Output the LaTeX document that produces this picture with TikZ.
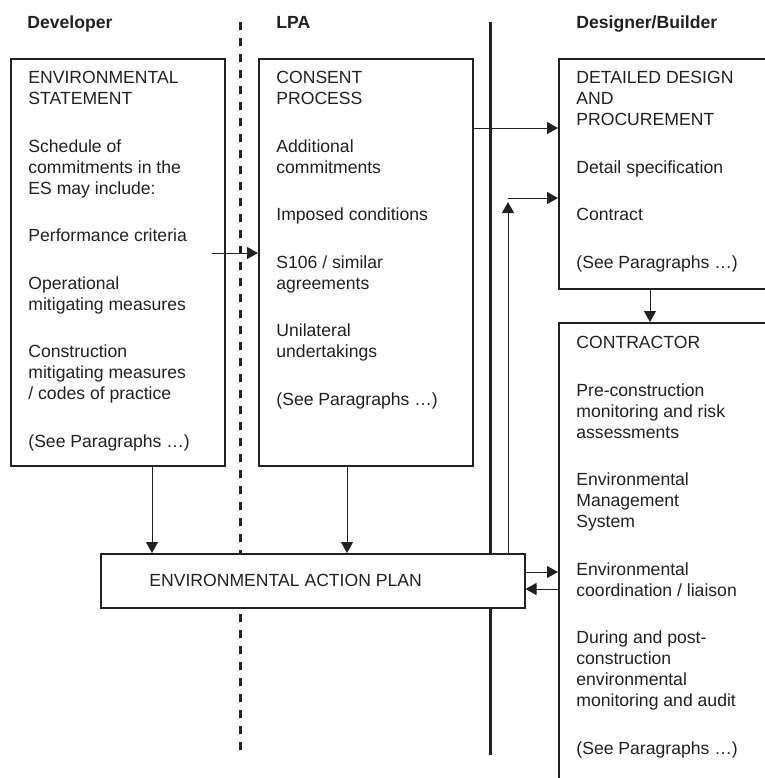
\documentclass[tikz,border=0pt]{standalone}
\usepackage{fontspec}
\setmainfont{Liberation Sans}
\usetikzlibrary{arrows.meta}
\definecolor{ink}{gray}{0.13}
\newcommand{\bodyfont}{\fontsize{8.8pt}{10.5pt}\selectfont}
\newcommand{\pgap}{\\[13.25pt]}
\tikzset{
  box/.style={draw=ink, line width=0.75pt, fill=white, inner sep=0pt, anchor=north west},
  boxtext/.style={anchor=north west, inner sep=0pt, align=left, font=\bodyfont, text=ink},
  header/.style={anchor=base west, inner sep=0pt, font=\bodyfont\bfseries, text=ink},
  arr/.style={draw=ink, line width=0.5pt, -{Triangle[length=5.5pt,width=6pt]}},
  divider/.style={draw=ink, line width=1.5pt},
}
\begin{document}
\begin{tikzpicture}[x=0.5pt, y=-0.5pt]
\useasboundingbox (0,0) rectangle (765,778);

% column headers
\node[header] (hdev) at (27,28) {Developer};
\node[header] (hlpa) at (276,28) {LPA};
\node[header] (hdes) at (576,28) {Designer/Builder};

% column dividers
\coordinate (dtop) at (240,22);
\coordinate (dbot) at (240,750);
\coordinate (stop) at (490,22);
\coordinate (sbot) at (490,755);
\draw[divider, dash pattern=on 4pt off 4pt] (dtop) -- (dbot);
\draw[divider] (stop) -- (sbot);

% boxes
\node[box, minimum width=107pt, minimum height=203.5pt] (dev) at (10,58) {};
\node[box, minimum width=107pt, minimum height=203.5pt] (lpa) at (258,58) {};
\node[box, minimum width=106pt, minimum height=115pt] (des) at (558,58) {};
\node[box, minimum width=106pt, minimum height=235pt] (con) at (558,322) {};
\node[box, minimum width=212pt, minimum height=27pt] (eap) at (100,553) {};
\node[anchor=west, inner sep=0pt, font=\bodyfont, text=ink] (eaplabel) at (149,580) {ENVIRONMENTAL ACTION PLAN};

% box contents
\node[boxtext] (tdev) at (28,71) {ENVIRONMENTAL\\STATEMENT\pgap
  Schedule of\\commitments in the\\ES may include:\pgap
  Performance criteria\pgap
  Operational\\mitigating measures\pgap
  Construction\\mitigating measures\\/ codes of practice\pgap
  (See Paragraphs \dots)};
\node[boxtext] (tlpa) at (276,71) {CONSENT\\PROCESS\pgap
  Additional\\commitments\pgap
  Imposed conditions\pgap
  S106 / similar\\agreements\pgap
  Unilateral\\undertakings\pgap
  (See Paragraphs \dots)};
\node[boxtext] (tdes) at (576,71) {DETAILED DESIGN\\AND\\PROCUREMENT\pgap
  Detail specification\pgap
  Contract\pgap
  (See Paragraphs \dots)};
\node[boxtext] (tcon) at (576,336) {CONTRACTOR\pgap
  Pre-construction\\monitoring and risk\\assessments\pgap
  Environmental\\Management\\System\pgap
  Environmental\\coordination / liaison\pgap
  During and post-\\construction\\environmental\\monitoring and audit\pgap
  (See Paragraphs \dots)};

% connectors
\coordinate (perf) at (212,253);
\draw[arr] (perf) -- (lpa.west |- perf);
\coordinate (cons) at (472,128);
\draw[arr] (lpa.east |- cons) -- (des.west |- cons);
\coordinate (feed) at (508,202);
\coordinate (contract) at (508,198);
\draw[arr] (eap.north -| feed) -- (feed);
\draw[arr] (contract) -- (des.west |- contract);
\coordinate (devdown) at (152,465);
\coordinate (lpadown) at (347,465);
\draw[arr] (devdown) -- (eap.north -| devdown);
\draw[arr] (lpadown) -- (eap.north -| lpadown);
\coordinate (desdown) at (650,288);
\draw[arr] (desdown) -- (con.north -| desdown);
\coordinate (out) at (524,572);
\coordinate (back) at (524,589);
\draw[arr] (eap.east |- out) -- (con.west |- out);
\draw[arr] (con.west |- back) -- (eap.east |- back);
\end{tikzpicture}
\end{document}
